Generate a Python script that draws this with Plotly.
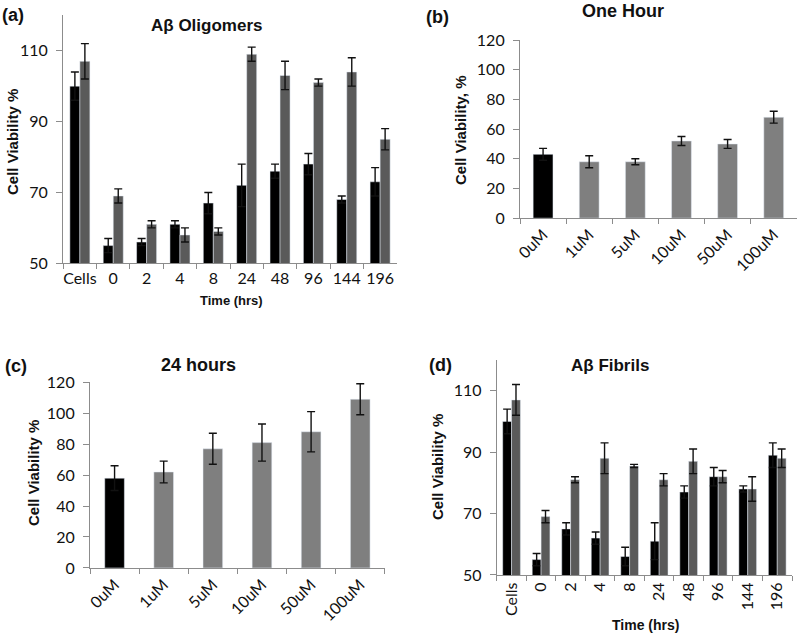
import plotly.graph_objects as go

# --- data ---
time_cats = ["Cells", "0", "2", "4", "8", "24", "48", "96", "144", "196"]
conc_cats = ["0uM", "1uM", "5uM", "10uM", "50uM", "100uM"]

olig_black = [100, 55, 56, 61, 67, 72, 76, 78, 68, 73]
olig_black_err = [4, 2, 1, 1, 3, 6, 2, 3, 1, 4]
olig_grey = [107, 69, 61, 58, 59, 109, 103, 101, 104, 85]
olig_grey_err = [5, 2, 1, 2, 1, 2, 4, 1, 4, 3]

hour1 = [43, 38, 38, 52, 50, 68]
hour1_err = [4, 4, 2, 3, 3, 4]

hour24 = [58, 62, 77, 81, 88, 109]
hour24_err = [8, 7, 10, 12, 13, 10]

fib_black = [100, 55, 65, 62, 56, 61, 77, 82, 78, 89]
fib_black_err = [4, 2, 2, 2, 3, 6, 2, 3, 1, 4]
fib_grey = [107, 69, 81, 88, 85.5, 81, 87, 82, 78, 88]
fib_grey_err = [5, 2, 1, 5, 0.5, 2, 4, 2, 4, 3]

BLACK = "#000000"
DARK_GREY = "#5a5a5a"
GREY = "#7f7f7f"
AXIS = "#8c8c8c"
TICK_FONT = dict(family="Lato", size=16, color="#111")
BOLD = "Liberation Sans"

fig = go.Figure()


def err(vals):
    return dict(type="data", array=vals, color="#111", thickness=1.4, width=4)


# (a) oligomers
fig.add_trace(go.Bar(x=time_cats, y=olig_black, error_y=err(olig_black_err),
                     marker_color=BLACK, xaxis="x", yaxis="y", offsetgroup="a1"))
fig.add_trace(go.Bar(x=time_cats, y=olig_grey, error_y=err(olig_grey_err),
                     marker_color=DARK_GREY, xaxis="x", yaxis="y", offsetgroup="a2"))

# (b) one hour
fig.add_trace(go.Bar(x=conc_cats, y=hour1, error_y=err(hour1_err),
                     marker_color=[BLACK] + [GREY] * 5, xaxis="x2", yaxis="y2",
                     width=0.43))

# (c) 24 hours
fig.add_trace(go.Bar(x=conc_cats, y=hour24, error_y=err(hour24_err),
                     marker_color=[BLACK] + [GREY] * 5, xaxis="x3", yaxis="y3",
                     width=0.4))

# (d) fibrils
fig.add_trace(go.Bar(x=time_cats, y=fib_black, error_y=err(fib_black_err),
                     marker_color=BLACK, xaxis="x4", yaxis="y4", offsetgroup="d1"))
fig.add_trace(go.Bar(x=time_cats, y=fib_grey, error_y=err(fib_grey_err),
                     marker_color=DARK_GREY, xaxis="x4", yaxis="y4", offsetgroup="d2"))


def xax(domain, anchor, angle=0):
    return dict(domain=domain, anchor=anchor, showline=True, linecolor=AXIS, linewidth=1.2,
                ticks="outside", tickson="boundaries", ticklen=5, tickcolor=AXIS,
                tickangle=angle, tickfont=TICK_FONT, showgrid=False, automargin=False)


def yax(domain, anchor, rng, dtick):
    return dict(domain=domain, anchor=anchor, range=rng, dtick=dtick, showline=True,
                linecolor=AXIS, linewidth=1.2, ticks="outside", ticklen=6, tickcolor=AXIS,
                ticklabelstandoff=5,
                tickfont=TICK_FONT, showgrid=False, zeroline=False, automargin=False)


fig.update_layout(
    width=800, height=636,
    margin=dict(l=0, r=0, t=0, b=0, pad=0),
    paper_bgcolor="white", plot_bgcolor="white",
    showlegend=False, barmode="group", bargap=0.4, bargroupgap=0,
    xaxis=xax([0.079, 0.496], "y"),
    yaxis=yax([0.586, 0.976], "x", [50, 120], 20),
    xaxis2=xax([0.65, 0.996], "y2", -45),
    yaxis2=yax([0.657, 0.937], "x2", [0, 120], 20),
    xaxis3=xax([0.1125, 0.481], "y3", -45),
    yaxis3=yax([0.107, 0.399], "x3", [0, 120], 20),
    xaxis4=xax([0.621, 0.99], "y4", -90),
    yaxis4=yax([0.096, 0.434], "x4", [50, 120], 20),
)
fig.update_layout(yaxis_tickvals=[50, 70, 90, 110], yaxis4_tickvals=[50, 70, 90, 110])

anns = [
    # panel labels
    ("(a)", 13, 15, 18, 0),
    ("(b)", 437, 17, 18, 0),
    ("(c)", 16, 366, 18, 0),
    ("(d)", 440, 365, 18, 0),
    # titles
    ("Aβ Oligomers", 207, 25, 17, 0),
    ("One Hour", 623, 11, 18, 0),
    ("24 hours", 198, 365, 18, 0),
    ("Aβ Fibrils", 610, 365, 17, 0),
    # axis titles
    ("Time (hrs)", 232, 300, 13, 0),
    ("Time (hrs)", 645, 625, 14, 0),
    ("Cell Viability %", 12, 142, 15, -90),
    ("Cell Viability, %", 460, 130, 15, -90),
    ("Cell Viability %", 33, 473, 15, -90),
    ("Cell Viability %", 437, 467, 15, -90),
]
for text, px, py, size, ang in anns:
    fig.add_annotation(text="<b>%s</b>" % text, x=px / 800, y=1 - py / 636,
                       xref="paper", yref="paper", showarrow=False, textangle=ang,
                       font=dict(family=BOLD, size=size, color="#111"),
                       xanchor="center", yanchor="middle")

# drop the default 8px body margin so the figure fills the window
fig.write_html("out.html", config={"displayModeBar": False},
               post_script="document.body.style.margin = '0';")
